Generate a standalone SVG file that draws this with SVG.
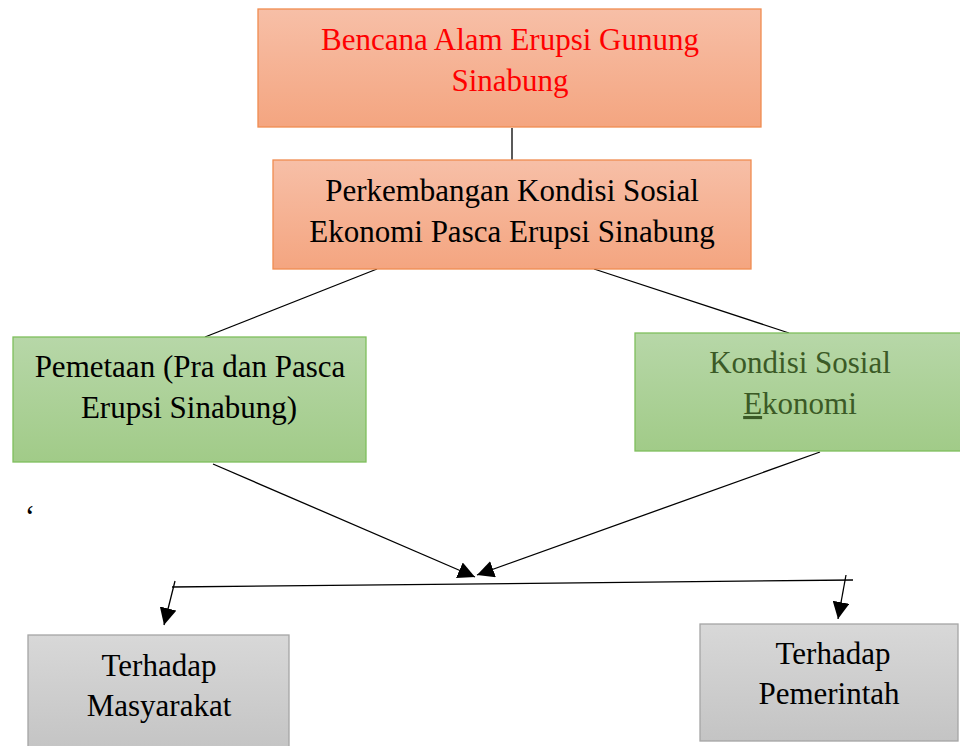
<svg xmlns="http://www.w3.org/2000/svg" width="960" height="746" viewBox="0 0 960 746">
<defs>
<linearGradient id="gOr" x1="0" y1="0" x2="0" y2="1"><stop offset="0" stop-color="#f7bfa7"/><stop offset="1" stop-color="#f4a580"/></linearGradient>
<linearGradient id="gGr" x1="0" y1="0" x2="0" y2="1"><stop offset="0" stop-color="#b7d7a8"/><stop offset="1" stop-color="#a1cb88"/></linearGradient>
<linearGradient id="gGy" x1="0" y1="0" x2="0" y2="1"><stop offset="0" stop-color="#d8d8d8"/><stop offset="1" stop-color="#c4c4c4"/></linearGradient>
<marker id="ah" viewBox="0 0 10 10" refX="10" refY="5" markerWidth="17" markerHeight="17" markerUnits="userSpaceOnUse" orient="auto"><path d="M0,0 L10,5 L0,10 z" fill="#000"/></marker>
</defs>
<style>
text{font-family:"Liberation Serif","Times New Roman",serif;font-size:31px;text-anchor:middle;fill:#000}
.or{fill:url(#gOr);stroke:#f08c50;stroke-width:1.3}
.gr{fill:url(#gGr);stroke:#7fbf5c;stroke-width:1.3}
.gy{fill:url(#gGy);stroke:#a5a5a5;stroke-width:1.3}
.ln{stroke:#000;stroke-width:1.3;fill:none}
</style>
<rect width="960" height="746" fill="#fff"/>
<g id="connectors">
<line class="ln" x1="512" y1="128" x2="512" y2="160"/>
<line class="ln" x1="377" y1="269" x2="205" y2="337"/>
<line class="ln" x1="594" y1="269" x2="789" y2="333"/>
<line class="ln" x1="213" y1="464" x2="475" y2="577" marker-end="url(#ah)"/>
<line class="ln" x1="820" y1="452" x2="477" y2="575" marker-end="url(#ah)"/>
<line class="ln" x1="172" y1="587" x2="853" y2="580"/>
<line class="ln" x1="175" y1="581" x2="164" y2="625" marker-end="url(#ah)"/>
<line class="ln" x1="846" y1="575" x2="838" y2="619" marker-end="url(#ah)"/>
</g>
<g id="n1"><rect class="or" x="258" y="9" width="503" height="118"/>
<text x="510" y="50" style="fill:#ff0000">Bencana Alam Erupsi Gunung</text>
<text x="510" y="91" style="fill:#ff0000">Sinabung</text></g>
<g id="n2"><rect class="or" x="273" y="160" width="478" height="109"/>
<text x="512" y="201">Perkembangan Kondisi Sosial</text>
<text x="512" y="242">Ekonomi Pasca Erupsi Sinabung</text></g>
<g id="n3"><rect class="gr" x="13" y="337" width="353" height="125"/>
<text x="190" y="377">Pemetaan (Pra dan Pasca</text>
<text x="189" y="418">Erupsi Sinabung)</text></g>
<g id="n4"><rect class="gr" x="635" y="333" width="330" height="118"/>
<text x="800" y="373" style="fill:#3b5a26">Kondisi Sosial</text>
<text x="800" y="414" style="fill:#3b5a26"><tspan text-decoration="underline">E</tspan>konomi</text></g>
<g id="n5"><rect class="gy" x="28" y="635" width="261" height="115"/>
<text x="159" y="676">Terhadap</text>
<text x="159" y="716">Masyarakat</text></g>
<g id="n6"><rect class="gy" x="700" y="624" width="258" height="117"/>
<text x="833" y="664">Terhadap</text>
<text x="829" y="704">Pemerintah</text></g>
<text x="30" y="527">‘</text>
</svg>
